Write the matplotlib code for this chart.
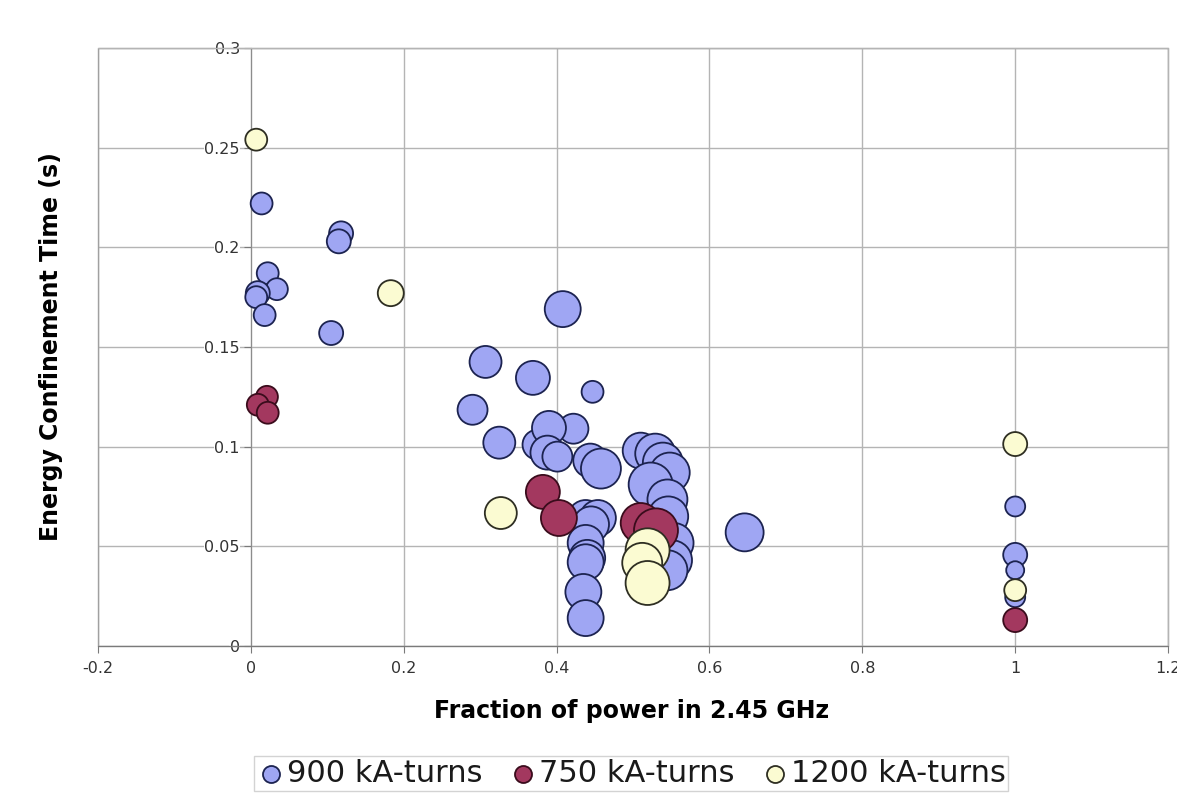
import numpy as np
import matplotlib
matplotlib.use("Agg")
import matplotlib.pyplot as plt
from matplotlib.patches import Rectangle

plt.rcParams['font.family'] = ['DejaVu Sans']

# 900 kA-turns
x_900 = [0.014, 0.118, 0.115, 0.022, 0.034, 0.009, 0.007, 0.018, 0.105,
         0.408, 0.307, 0.369, 0.447, 0.290, 0.325, 0.422, 0.375, 0.390,
         0.388, 0.401, 0.444, 0.458, 0.438, 0.454, 0.445, 0.438, 0.440,
         0.438, 0.435, 0.438, 0.510, 0.529, 0.539, 0.548, 0.523, 0.545,
         0.546, 0.553, 0.551, 0.545, 0.646, 1.0, 1.0, 1.0, 1.0]
y_900 = [0.222, 0.207, 0.203, 0.187, 0.179, 0.177, 0.175, 0.166, 0.157,
         0.169, 0.1425, 0.1345, 0.1275, 0.1185, 0.102, 0.109, 0.101, 0.1094,
         0.097, 0.095, 0.093, 0.089, 0.0642, 0.0642, 0.061, 0.0517, 0.0442,
         0.042, 0.0271, 0.014, 0.098, 0.0965, 0.092, 0.087, 0.081, 0.0735,
         0.065, 0.0517, 0.043, 0.038, 0.057, 0.070, 0.0457, 0.038, 0.0245]
b_900 = [1.2, 1.44, 1.44, 1.2, 1.2, 1.44, 1.2, 1.2, 1.44,
         3.24, 2.56, 2.89, 1.2, 2.25, 2.56, 2.25, 2.25, 2.89,
         2.89, 2.25, 2.89, 4.0, 3.24, 3.24, 3.24, 3.24, 3.24,
         3.24, 3.24, 3.24, 3.24, 4.0, 4.0, 4.0, 4.84, 4.0,
         4.0, 4.0, 4.0, 4.0, 3.61, 1.0, 1.44, 0.81, 1.0]

# 750 kA-turns
x_750 = [0.021, 0.009, 0.022, 0.382, 0.403, 0.510, 0.530, 1.0]
y_750 = [0.125, 0.121, 0.117, 0.0773, 0.0642, 0.0617, 0.058, 0.013]
b_750 = [1.2, 1.2, 1.2, 2.89, 3.24, 4.0, 4.84, 1.44]

# 1200 kA-turns
x_1200 = [0.007, 0.183, 0.327, 1.0, 1.0, 0.519, 0.512, 0.519]
y_1200 = [0.254, 0.177, 0.0667, 0.1013, 0.028, 0.048, 0.0417, 0.0316]
b_1200 = [1.2, 1.69, 2.56, 1.44, 1.2, 4.84, 4.0, 4.84]

series = [
    ("900 kA-turns", x_900, y_900, b_900, "#9fa6f3", "#1c2350"),
    ("750 kA-turns", x_750, y_750, b_750, "#a3385f", "#3a0c1c"),
    ("1200 kA-turns", x_1200, y_1200, b_1200, "#fbfbd2", "#2e2e22"),
]

fig = plt.figure(figsize=(11.77, 7.93), dpi=100)
ax = fig.add_axes([0.0833, 0.1854, 0.9091, 0.7541])

for name, xs, ys, bs, fc, ec in series:
    ax.scatter(xs, ys, s=np.array(bs) * 207, facecolor=fc, edgecolor=ec,
               linewidth=1.3, label=name, zorder=3)

ax.set_xlim(-0.2, 1.2)
ax.set_ylim(0, 0.3)
ax.set_xticks([-0.2, 0, 0.2, 0.4, 0.6, 0.8, 1.0, 1.2])
ax.set_xticklabels(["-0.2", "0", "0.2", "0.4", "0.6", "0.8", "1", "1.2"])
ax.set_yticks([0, 0.05, 0.1, 0.15, 0.2, 0.25, 0.3])
ax.set_yticklabels(["0", "0.05", "0.1", "0.15", "0.2", "0.25", "0.3"])
ax.grid(True, color="#b4b4b4", linewidth=1.0, zorder=0)
ax.set_axisbelow(True)

# value axis crosses at x = 0
ax.spines['left'].set_position(('data', 0))
ax.spines['left'].set_color("#8c8c8c")
ax.spines['bottom'].set_color("#7a7a7a")
ax.spines['top'].set_color("#b4b4b4")
ax.spines['right'].set_color("#b4b4b4")
ax.add_patch(Rectangle((0, 0), 1, 1, transform=ax.transAxes, fill=False,
                       edgecolor="#a0a0a0", linewidth=1.0, clip_on=False, zorder=1))

ax.tick_params(axis='both', colors="#7a7a7a", labelcolor="#333333",
               labelsize=11.5, length=5, direction='out')
ax.tick_params(axis='y', pad=3)
ax.tick_params(axis='x', pad=6)
for lab in ax.get_yticklabels():
    lab.set_bbox(dict(facecolor='white', edgecolor='none', pad=0.5))

ax.set_xlabel("Fraction of power in 2.45 GHz", fontsize=17, fontweight='bold')
ax.set_ylabel("Energy Confinement Time (s)", fontsize=17, fontweight='bold')
ax.xaxis.set_label_coords(0.499, -0.088)
ax.yaxis.set_label_coords(-0.033, 0.5)

leg = fig.legend(loc='lower center', bbox_to_anchor=(0.5365, 0.0025),
                 ncol=3, fontsize=22, frameon=True, fancybox=False,
                 handletextpad=0.05, columnspacing=0.9, borderpad=0.1,
                 borderaxespad=0.0, handlelength=0.9)
leg.get_frame().set_edgecolor("#c8c8c8")
leg.get_frame().set_linewidth(1.0)
for h in leg.legend_handles:
    h.set_sizes([150])
for t in leg.get_texts():
    t.set_color("#1a1a1a")

fig.savefig("out.png", dpi=100)
